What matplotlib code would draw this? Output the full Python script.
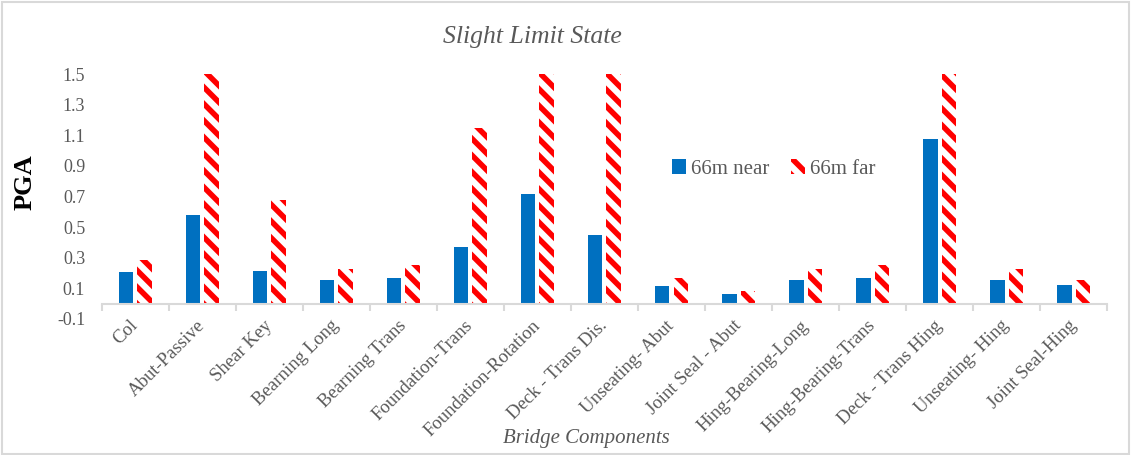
import matplotlib.pyplot as plt
import numpy as np
from matplotlib.patches import Patch, Rectangle

components = [
    "Col", "Abut-Passive", "Shear Key", "Bearning Long", "Bearning Trans",
    "Foundation-Trans", "Foundation-Rotation", "Deck - Trans Dis.",
    "Unseating- Abut", "Joint Seal - Abut", "Hing-Bearing-Long",
    "Hing-Bearing-Trans", "Deck - Trans Hing", "Unseating- Hing",
    "Joint Seal-Hing",
]
near_66m = [0.206, 0.577, 0.213, 0.152, 0.167, 0.37, 0.72, 0.446,
            0.115, 0.065, 0.154, 0.167, 1.078, 0.154, 0.12]
far_66m = [0.287, 1.5, 0.68, 0.224, 0.255, 1.15, 1.5, 1.5,
           0.167, 0.082, 0.224, 0.255, 1.5, 0.224, 0.152]
y_ticks = [-0.1, 0.1, 0.3, 0.5, 0.7, 0.9, 1.1, 1.3, 1.5]

SERIF = ["Liberation Serif", "DejaVu Serif"]
GREY = "#595959"
STRIPES = "\\" * 2
plt.rcParams["font.family"] = SERIF
plt.rcParams["hatch.linewidth"] = 4.0

fig = plt.figure(figsize=(11.32, 4.55), dpi=100)
ax = fig.add_axes([0.090, 0.299, 0.888, 0.538])

x = np.arange(len(components))
width = 0.22
ax.bar(x - 0.14, near_66m, width, color="#0070C0", label="66m near")
ax.bar(x + 0.14, far_66m, width, facecolor="white", edgecolor="#FF0000",
       linewidth=0, hatch=STRIPES, label="66m far")

ax.set_xlim(-0.5, len(components) - 0.5)
ax.set_ylim(-0.1, 1.5)
ax.set_yticks(y_ticks)
ax.set_yticklabels([f"{v:.1f}" for v in y_ticks])
ax.tick_params(axis="y", length=0, pad=12, labelsize=13, labelcolor=GREY)

# category axis sits on y = 0, with small ticks between categories
for side in ["left", "right", "top"]:
    ax.spines[side].set_visible(False)
ax.spines["bottom"].set_position(("data", 0))
ax.spines["bottom"].set_color("#d9d9d9")
ax.spines["bottom"].set_linewidth(1.5)
ax.set_xticks(x)
ax.set_xticks(np.arange(len(components) + 1) - 0.5, minor=True)
ax.tick_params(axis="x", which="major", length=0, pad=14)
ax.tick_params(axis="x", which="minor", length=5, width=1.5, color="#d9d9d9")
ax.set_xticklabels(components, rotation=45, ha="right", va="center",
                   rotation_mode="anchor", fontsize=13.5, color=GREY)

fig.text(0.470, 0.919, "Slight Limit State", ha="center", va="center",
         fontsize=18.5, style="italic", color=GREY)
fig.text(0.022, 0.60, "PGA", ha="center", va="center", rotation=90,
         fontsize=19, fontweight="bold", color="black")
fig.text(0.518, 0.037, "Bridge Components", ha="center", va="center",
         fontsize=15, style="italic", color=GREY)

handles = [
    Patch(facecolor="#0070C0", label="66m near"),
    Patch(facecolor="white", edgecolor="#FF0000", linewidth=0,
          hatch=STRIPES, label="66m far"),
]
fig.legend(handles=handles, loc="center left",
           bbox_to_anchor=(0.584, 1 - 169 / 455), ncol=2, frameon=False,
           fontsize=15, labelcolor=GREY, handlelength=0.7, handleheight=0.7,
           handletextpad=0.25, columnspacing=1.0, borderpad=0)

fig.patches.append(Rectangle((0.002, 0.003), 0.995, 0.993,
                             transform=fig.transFigure, fill=False,
                             edgecolor="#d9d9d9", linewidth=1.5))

fig.savefig("out.png", dpi=100)
plt.close(fig)
